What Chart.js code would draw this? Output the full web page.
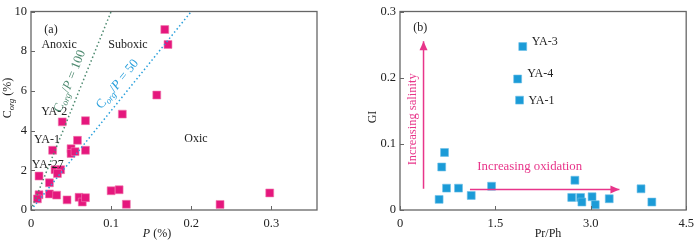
<!DOCTYPE html>
<html>
<head>
<meta charset="utf-8">
<script src="https://cdn.jsdelivr.net/npm/chart.js@4/dist/chart.umd.min.js"></script>
<style>
  body { margin: 0; background: #fff; }
  #wrap { position: relative; width: 700px; height: 241px; }
  .box { position: absolute; top: 0; width: 350px; height: 241px; }
</style>
</head>
<body>
<div id="wrap">
  <div class="box" style="left:0"><canvas id="chartA" width="350" height="241"></canvas></div>
  <div class="box" style="left:350px"><canvas id="chartB" width="350" height="241"></canvas></div>
</div>
<script>
// (a) P vs Corg
var pValues = [0.167, 0.171, 0.157, 0.114, 0.068, 0.039, 0.058, 0.027, 0.050, 0.050, 0.055, 0.068, 0.030, 0.037, 0.033,
  0.010, 0.023, 0.010, 0.008, 0.023, 0.032, 0.045, 0.060, 0.064, 0.068, 0.100, 0.110, 0.119, 0.236, 0.298];
var corgValues = [9.09, 8.34, 5.79, 4.83, 4.50, 4.44, 3.51, 3.01, 3.09, 2.85, 2.94, 3.01, 2.03, 2.03, 1.84,
  1.71, 1.37, 0.77, 0.56, 0.81, 0.75, 0.51, 0.64, 0.40, 0.62, 0.97, 1.02, 0.29, 0.28, 0.86];
var ratio100Line = [[0, 0], [0.1, 10]];
var ratio50Line = [[0, 0], [0.2, 10]];
var xTicksA = [0, 0.1, 0.2, 0.3];
var yTicksA = [0, 2, 4, 6, 8, 10];

// (b) Pr/Ph vs GI
var prPhValues = [1.93, 1.85, 1.88, 0.70, 0.656, 0.732, 0.92, 0.615, 1.12, 1.44, 2.75, 2.70, 2.84, 2.86, 3.02, 3.07, 3.29, 3.79, 3.96];
var giValues = [0.247, 0.198, 0.166, 0.087, 0.065, 0.033, 0.033, 0.016, 0.022, 0.036, 0.045, 0.019, 0.019, 0.012, 0.020, 0.008, 0.017, 0.032, 0.012];
var salinityArrow = [[0.37, 0.032], [0.37, 0.255]];
var oxidationArrow = [[1.10, 0.031], [3.45, 0.031]];
var xTicksB = [0, 1.5, 3.0, 4.5];
var yTicksB = [0, 0.1, 0.2, 0.3];

var SERIF = '"Liberation Serif", "DejaVu Serif", serif';
var PINK = "#e5177d";
var BLUE = "#1b9bd7";
var ARROW = "#e8358a";

function toPoints(xs, ys) {
  return xs.map(function (x, i) { return { x: x, y: ys[i] }; });
}
function pairs(arr) {
  return arr.map(function (p) { return { x: p[0], y: p[1] }; });
}
function fmt(v) {
  return v === 0 ? "0" : v.toFixed(1);
}

// draw text made of segments (sub = subscript, it = italic)
function drawRich(ctx, segs, x, y, size, color, angle, align) {
  ctx.save();
  ctx.translate(x, y);
  ctx.rotate(angle || 0);
  ctx.fillStyle = color;
  ctx.textBaseline = "middle";
  ctx.textAlign = "left";
  var total = 0;
  segs.forEach(function (s) {
    var fs = s.sub ? size * 0.7 : size;
    ctx.font = (s.it ? "italic " : "") + fs + "px " + SERIF;
    s.w = ctx.measureText(s.t).width;
    total += s.w;
  });
  var cx = align === "left" ? 0 : -total / 2;
  segs.forEach(function (s) {
    var fs = s.sub ? size * 0.7 : size;
    ctx.font = (s.it ? "italic " : "") + fs + "px " + SERIF;
    ctx.fillText(s.t, cx, s.sub ? size * 0.3 : 0);
    cx += s.w;
  });
  ctx.restore();
}

var framePlugin = {
  id: "frame",
  afterDraw: function (chart) {
    var ctx = chart.ctx, a = chart.chartArea;
    var xs = chart.scales.x, ys = chart.scales.y;
    ctx.save();
    ctx.strokeStyle = "#666";
    ctx.lineWidth = 1.3;
    ctx.strokeRect(a.left, a.top, a.right - a.left, a.bottom - a.top);
    ctx.lineWidth = 1;
    xs.ticks.forEach(function (t) {
      var px = Math.round(xs.getPixelForValue(t.value)) + 0.5;
      ctx.beginPath(); ctx.moveTo(px, a.bottom); ctx.lineTo(px, a.bottom - 4); ctx.stroke();
    });
    ys.ticks.forEach(function (t) {
      var py = Math.round(ys.getPixelForValue(t.value)) + 0.5;
      ctx.beginPath(); ctx.moveTo(a.left, py); ctx.lineTo(a.left + 4, py); ctx.stroke();
    });
    ctx.restore();
  }
};

var textPlugin = {
  id: "texts",
  afterDraw: function (chart) {
    var list = chart.options.plugins.texts.items || [];
    var ctx = chart.ctx, xs = chart.scales.x, ys = chart.scales.y;
    list.forEach(function (it) {
      var px = it.px !== undefined ? it.px : xs.getPixelForValue(it.x);
      var py = it.py !== undefined ? it.py : ys.getPixelForValue(it.y);
      var ang = it.angle || 0;
      if (it.along) {
        var p0 = it.along[0], p1 = it.along[1];
        var dx = xs.getPixelForValue(p1[0]) - xs.getPixelForValue(p0[0]);
        var dy = ys.getPixelForValue(p1[1]) - ys.getPixelForValue(p0[1]);
        ang = Math.atan2(dy, dx);
      }
      drawRich(ctx, it.segs, px, py, it.size || 12, it.color || "#222", ang, it.align);
    });
  }
};

var arrowPlugin = {
  id: "arrows",
  afterDatasetsDraw: function (chart) {
    var ctx = chart.ctx, xs = chart.scales.x, ys = chart.scales.y;
    chart.data.datasets.forEach(function (ds) {
      if (!ds.arrow) return;
      var d = ds.data, p0 = d[d.length - 2], p1 = d[d.length - 1];
      var x0 = xs.getPixelForValue(p0.x), y0 = ys.getPixelForValue(p0.y);
      var x1 = xs.getPixelForValue(p1.x), y1 = ys.getPixelForValue(p1.y);
      var ang = Math.atan2(y1 - y0, x1 - x0);
      ctx.save();
      ctx.translate(x1, y1);
      ctx.rotate(ang);
      ctx.fillStyle = ds.borderColor;
      ctx.beginPath();
      ctx.moveTo(0, 0); ctx.lineTo(-9, -4); ctx.lineTo(-9, 4); ctx.closePath();
      ctx.fill();
      ctx.restore();
    });
  }
};

function axis(min, max, stepList, fitW, fitH, cb, pad) {
  return {
    type: "linear", min: min, max: max,
    grid: { display: false, drawTicks: false },
    border: { display: false },
    afterBuildTicks: function (s) { s.ticks = stepList.map(function (v) { return { value: v }; }); },
    afterFit: function (s) { if (fitW) s.width = fitW; if (fitH) s.height = fitH; },
    ticks: { padding: pad, color: "#222", font: { family: SERIF, size: 12.5 }, callback: cb }
  };
}

new Chart(document.getElementById("chartA"), {
  type: "scatter",
  data: {
    datasets: [
      { type: "line", data: pairs(ratio100Line), borderColor: "#4e8a70", borderWidth: 1.5, borderDash: [1.5, 2.5], pointRadius: 0, fill: false },
      { type: "line", data: pairs(ratio50Line), borderColor: "#2aa0dc", borderWidth: 1.5, borderDash: [1.5, 2.5], pointRadius: 0, fill: false },
      { data: toPoints(pValues, corgValues), pointStyle: "rect", pointRadius: 5.6, backgroundColor: PINK, borderColor: "#f07aaf", borderWidth: 0.6 }
    ]
  },
  options: {
    responsive: false, animation: false,
    layout: { padding: { top: 5, right: 33, left: 0, bottom: 0 } },
    plugins: {
      legend: { display: false }, tooltip: { enabled: false },
      texts: { items: [
        { segs: [{ t: "(a)" }], x: 0.025, y: 9.1 },
        { segs: [{ t: "Anoxic" }], x: 0.035, y: 8.3 },
        { segs: [{ t: "Suboxic" }], x: 0.121, y: 8.3 },
        { segs: [{ t: "Oxic" }], x: 0.206, y: 3.56 },
        { segs: [{ t: "YA-2" }], x: 0.029, y: 4.93 },
        { segs: [{ t: "YA-1" }], x: 0.020, y: 3.51 },
        { segs: [{ t: "YA-27" }], x: 0.021, y: 2.29 },
        { segs: [{ t: "C" }, { t: "org", sub: true, it: true }, { t: "/" }, { t: "P", it: true }, { t: " = 100" }], x: 0.0486, y: 6.49, size: 13, along: ratio100Line, color: "#4e8a70" },
        { segs: [{ t: "C" }, { t: "org", sub: true, it: true }, { t: "/" }, { t: "P", it: true }, { t: " = 50" }], x: 0.108, y: 6.34, size: 13, along: ratio50Line, color: "#2aa0dc" },
        { segs: [{ t: "C" }, { t: "org", sub: true, it: true }, { t: " (%)" }], px: 8, py: 98, angle: -Math.PI / 2 },
        { segs: [{ t: "P", it: true }, { t: " (%)" }], px: 157, py: 234 }
      ] }
    },
    scales: {
      x: axis(0, 0.357, xTicksA, 0, 31, function (v) { return fmt(v); }, 6),
      y: axis(0, 10, yTicksA, 31, 0, function (v) { return String(v); }, 4)
    }
  },
  plugins: [framePlugin, textPlugin]
});

new Chart(document.getElementById("chartB"), {
  type: "scatter",
  data: {
    datasets: [
      { type: "line", arrow: true, data: pairs(salinityArrow), borderColor: ARROW, borderWidth: 1.5, pointRadius: 0, fill: false },
      { type: "line", arrow: true, data: pairs(oxidationArrow), borderColor: ARROW, borderWidth: 1.5, pointRadius: 0, fill: false },
      { data: toPoints(prPhValues, giValues), pointStyle: "rect", pointRadius: 5.6, backgroundColor: BLUE, borderColor: "#6cc0e8", borderWidth: 0.6 }
    ]
  },
  options: {
    responsive: false, animation: false,
    layout: { padding: { top: 5, right: 6, left: 0, bottom: 0 } },
    plugins: {
      legend: { display: false }, tooltip: { enabled: false },
      texts: { items: [
        { segs: [{ t: "(b)" }], x: 0.32, y: 0.275 },
        { segs: [{ t: "YA-3" }], x: 2.07, y: 0.254, align: "left" },
        { segs: [{ t: "YA-4" }], x: 2.0, y: 0.206, align: "left" },
        { segs: [{ t: "YA-1" }], x: 2.02, y: 0.165, align: "left" },
        { segs: [{ t: "Increasing salinity" }], x: 0.2, y: 0.137, size: 12.5, angle: -Math.PI / 2, color: ARROW },
        { segs: [{ t: "Increasing oxidation" }], x: 2.04, y: 0.065, size: 12.8, color: ARROW },
        { segs: [{ t: "GI" }], px: 23, py: 117, angle: -Math.PI / 2 },
        { segs: [{ t: "Pr/Ph" }], px: 198, py: 234 }
      ] }
    },
    scales: {
      x: axis(0, 4.5, xTicksB, 0, 31, function (v) { return fmt(v); }, 6),
      y: axis(0, 0.3, yTicksB, 50, 0, function (v) { return fmt(v); }, 4)
    }
  },
  plugins: [framePlugin, textPlugin, arrowPlugin]
});
</script>
</body>
</html>
